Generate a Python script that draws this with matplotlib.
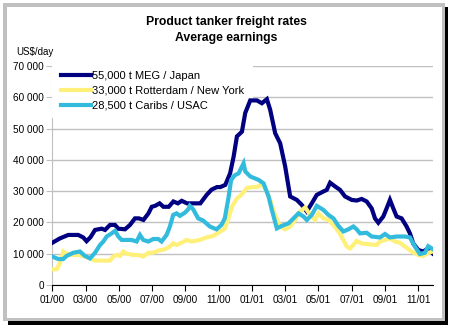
import matplotlib
matplotlib.use("Agg")
import matplotlib.pyplot as plt
from matplotlib.patches import Rectangle
from matplotlib.ticker import FuncFormatter, MultipleLocator

plt.rcParams['font.family'] = ['Liberation Sans', 'DejaVu Sans']

# x positions in months since Jan 2000
meg_x = [0, 0.46, 0.96, 1.56, 1.86, 2.06, 2.3, 2.57, 2.97, 3.17, 3.47, 3.77, 3.97, 4.37, 4.67,
         4.97, 5.2, 5.48, 5.78, 5.98, 6.18, 6.45, 6.68, 7.0, 7.28, 7.55, 7.78, 8.1, 8.5, 8.9,
         9.28, 9.58, 9.9, 10.1, 10.4, 10.69, 10.9, 11.1, 11.4, 11.6, 11.9, 12.3, 12.6, 12.9,
         13.1, 13.4, 13.7, 14.0, 14.3, 14.7, 15.0, 15.3, 15.6, 15.9, 16.3, 16.5, 16.7, 17.0,
         17.3, 17.6, 18.0, 18.3, 18.6, 18.9, 19.2, 19.4, 19.6, 19.9, 20.1, 20.3, 20.5, 20.7,
         21.0, 21.3, 21.5, 21.7, 22.0, 22.3, 22.6, 22.87]
meg_y = [13500, 14900, 16000, 16000, 15200, 14000, 15300, 17600, 18000, 17600, 19200, 19200,
         18000, 17800, 19200, 21300, 21300, 20800, 22900, 25000, 25300, 26100, 25000, 25000,
         26700, 26100, 26900, 26100, 26100, 26100, 28800, 30500, 31300, 31300, 32000, 35700,
         41000, 47500, 49000, 55000, 59000, 59000, 58100, 59400, 56000, 48500, 45300, 37900,
         28300, 27200, 25600, 23500, 26100, 28800, 29900, 30400, 32700, 31500, 30400, 28300,
         27200, 27000, 27500, 26700, 24500, 21300, 19900, 21900, 24500, 27200, 24500, 21900,
         21300, 18700, 16500, 13300, 11200, 10700, 11700, 10100]

rtm_x = [0, 0.26, 0.46, 0.66, 0.86, 1.16, 1.56, 1.96, 2.27, 2.57, 2.87, 3.47, 3.67, 3.87,
         4.07, 4.27, 4.47, 4.87, 5.17, 5.47, 5.77, 6.07, 6.37, 6.77, 7.07, 7.27, 7.47, 7.77,
         8.07, 8.37, 8.87, 9.27, 9.67, 10.07, 10.37, 10.57, 10.8, 11.1, 11.4, 11.7, 12.0,
         12.3, 12.6, 12.9, 13.1, 13.4, 13.7, 14.0, 14.3, 14.6, 14.9, 15.2, 15.5, 15.8, 16.0,
         16.3, 16.6, 16.9, 17.2, 17.5, 17.7, 17.9, 18.1, 18.3, 18.6, 19.1, 19.5, 19.7, 20.0,
         20.3, 20.6, 20.9, 21.2, 21.6, 22.0, 22.3, 22.6, 22.87]
rtm_y = [5000, 5000, 7000, 10700, 10000, 9600, 9600, 9100, 8500, 7800, 7800, 7800, 9100, 9600,
         9300, 10700, 10000, 9600, 9600, 9100, 10300, 10300, 11000, 11400, 12300, 13300, 12800,
         13500, 14400, 13900, 14400, 15200, 15700, 17000, 18000, 21000, 25000, 27700, 29000,
         31000, 31300, 31300, 32300, 29900, 27200, 22400, 18700, 17800, 18700, 20800, 23500,
         24800, 22400, 20800, 22900, 21300, 20800, 19200, 17100, 14400, 12300, 11700, 12800,
         14100, 13300, 13000, 12800, 13900, 14400, 14900, 13900, 13500, 12300, 10700, 9600,
         9300, 10300, 10700]

car_x = [0, 0.36, 0.66, 0.86, 1.26, 1.66, 1.96, 2.27, 2.57, 2.87, 3.07, 3.27, 3.57, 3.77,
         3.97, 4.17, 4.77, 5.07, 5.27, 5.47, 5.77, 6.07, 6.37, 6.57, 6.87, 7.07, 7.27, 7.47,
         7.67, 7.97, 8.17, 8.27, 8.47, 8.77, 9.07, 9.47, 9.87, 10.17, 10.37, 10.57, 10.75,
         10.95, 11.2, 11.5, 11.6, 11.9, 12.4, 12.7, 13.0, 13.2, 13.5, 13.8, 14.2, 14.5, 14.8,
         15.1, 15.3, 15.6, 15.9, 16.3, 16.6, 16.9, 17.2, 17.5, 17.8, 18.1, 18.3, 18.5, 18.9,
         19.2, 19.7, 20.0, 20.3, 20.7, 21.2, 21.5, 21.8, 22.1, 22.4, 22.6, 22.87]
car_y = [9100, 8300, 8300, 9300, 10300, 10700, 9300, 8500, 10300, 12800, 13900, 15500, 16500,
         17300, 15500, 14400, 14400, 13900, 16000, 14400, 13900, 14700, 14700, 13900, 16000,
         18700, 22400, 22900, 22100, 23100, 24200, 25300, 24200, 21300, 20600, 18700, 17800,
         19200, 21300, 27200, 33500, 35000, 35700, 38900, 36300, 34700, 33600, 32500, 28300,
         24000, 18100, 18900, 19700, 21300, 22900, 21900, 20800, 22400, 25300, 24000, 22400,
         21300, 18900, 17100, 17800, 18700, 17800, 16500, 16700, 15500, 15200, 16300, 15200,
         15500, 15500, 15200, 12300, 9900, 10300, 12400, 11500]

tick_months = list(range(0, 24, 2))
tick_labels = ["01/00", "03/00", "05/00", "07/00", "09/00", "11/00",
               "01/01", "03/01", "05/01", "07/01", "09/01", "11/01"]
series_names = ["55,000 t MEG / Japan", "33,000 t Rotterdam / New York", "28,500 t Caribs / USAC"]
series_colors = ["#000080", "#FFF07A", "#33BBDD"]

W, H = 452, 328
fig = plt.figure(figsize=(W / 100, H / 100), dpi=100)
fig.patch.set_facecolor("white")

# frame with shadow
fig.patches.append(Rectangle((8 / W, (H - 325) / H), 440 / W, 318 / H, transform=fig.transFigure,
                             facecolor="black", edgecolor="none", zorder=-3))
fig.patches.append(Rectangle((3 / W, (H - 321) / H), 442 / W, 318 / H, transform=fig.transFigure,
                             facecolor="#c0c0c0", edgecolor="none", zorder=-2))
fig.patches.append(Rectangle((7 / W, (H - 318) / H), 435 / W, 311 / H, transform=fig.transFigure,
                             facecolor="white", edgecolor="none", zorder=-1))

ax = fig.add_axes([52.3 / W, (H - 285) / H, (432.7 - 52.3) / W, (285 - 66) / H])
ax.set_zorder(1)
ax.set_facecolor("none")

for xs, ys, name, col in zip([meg_x, rtm_x, car_x], [meg_y, rtm_y, car_y], series_names, series_colors):
    ax.plot(xs, ys, color=col, lw=3.0, label=name, zorder=3, solid_joinstyle="miter")

ax.set_xlim(0, 22.87)
ax.set_ylim(0, 70000)
ax.yaxis.set_major_locator(MultipleLocator(10000))
ax.yaxis.set_major_formatter(FuncFormatter(lambda v, p: f"{int(v):,}".replace(",", " ")))
ax.set_xticks(tick_months)
ax.set_xticklabels(tick_labels)
ax.set_axisbelow(True)
ax.grid(axis="y", color="#c0c0c0", lw=1.0)
for s in ["top", "right"]:
    ax.spines[s].set_visible(False)
ax.spines["left"].set_color("#c0c0c0")
ax.spines["bottom"].set_color("black")
ax.tick_params(axis="y", length=4, color="#c0c0c0", labelsize=7.2, pad=2)
ax.tick_params(axis="x", length=4, color="black", labelsize=7.2, pad=3)

leg = ax.legend(loc="upper left", bbox_to_anchor=(0.0, 1.02), fontsize=8, frameon=True,
                handlelength=2.7, handletextpad=0.1, labelspacing=0.45, borderpad=0.8,
                borderaxespad=0.0)
leg.get_frame().set_facecolor("white")
leg.get_frame().set_edgecolor("none")
leg.get_frame().set_alpha(1)
leg.set_zorder(2.5)

fig.text(226 / W, 1 - 21.7 / H, "Product tanker freight rates", ha="center", va="center",
         fontsize=8.8, fontweight="bold")
fig.text(226 / W, 1 - 37.7 / H, "Average earnings", ha="center", va="center",
         fontsize=8.8, fontweight="bold")
fig.text(16 / W, 1 - 52 / H, "US$/day", ha="left", va="center", fontsize=7)

fig.savefig("out.png", dpi=100)
